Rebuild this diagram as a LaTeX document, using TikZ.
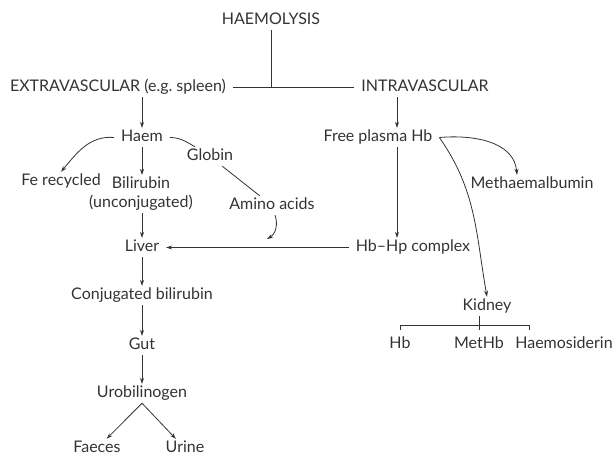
\documentclass[tikz,border=0pt]{standalone}
\usepackage{fontspec}
\setmainfont{Lato}
\usetikzlibrary{arrows.meta}

\begin{document}
\begin{tikzpicture}[
  x=1pt,y=1pt,
  >={Stealth[length=6pt,width=4pt]},
  label/.style={font=\fontsize{16}{19}\selectfont,text=black!80,anchor=base,
    inner xsep=3pt,inner ysep=2pt,outer xsep=4pt,text height=12pt,text depth=3pt},
  twoline/.style={font=\fontsize{16}{19}\selectfont,text=black!80,align=center,
    anchor=north,inner sep=2pt},
  flow/.style={->,draw=black!80,line width=0.8pt},
  link/.style={draw=black!80,line width=0.8pt}
]
  \useasboundingbox (0,0) rectangle (614,-457);

  \node[label] (haemolysis) at (271,-25) {HAEMOLYSIS};
  \node[label] (extra) at (118,-92) {EXTRAVASCULAR (e.g.\ spleen)};
  \node[label] (intra) at (425,-92) {INTRAVASCULAR};
  \node[label] (haem) at (142,-142) {Haem};
  \node[label] (free) at (378,-142) {Free plasma Hb};
  \node[label] (globin) at (210,-161) {Globin};
  \node[label] (fe) at (61,-186) {Fe recycled};
  \node[twoline] (bil) at (141,-175) {Bilirubin\\(unconjugated)};
  \node[label] (amino) at (272,-210) {Amino acids};
  \node[label] (meth) at (532,-189) {Methaemalbumin};
  \node[label] (liver) at (142,-252) {Liver};
  \node[label] (hbhp) at (413,-252) {Hb\textendash Hp complex};
  \node[label] (conj) at (142,-300) {Conjugated bilirubin};
  \node[label] (kidney) at (487,-311) {Kidney};
  \node[label] (hb) at (400,-349) {Hb};
  \node[label] (methb) at (479,-349) {MetHb};
  \node[label] (haemo) at (564,-349) {Haemosiderin};
  \node[label] (gut) at (142,-350) {Gut};
  \node[label] (uro) at (142,-398) {Urobilinogen};
  \node[label] (faeces) at (97,-453) {Faeces};
  \node[label] (urine) at (185,-453) {Urine};
  \coordinate (aatip) at (267,-239);

  \draw[link] (extra.east) -- (intra.west);
  \draw[link] (haemolysis.south) -- (haemolysis.south |- extra.east);
  \draw[flow] (extra.south -| haem) -- (haem);
  \draw[flow] ([xshift=-28pt]intra.south) -- ([xshift=19pt]free.north);
  \draw[flow] (haem.west) to[out=175,in=50] (fe.north);
  \draw[flow] (haem.south) -- (haem.south |- bil.north);
  \draw[link] (haem.east) to[out=0,in=150] ([xshift=-15pt]globin.north);
  \draw[link] (globin) -- (amino);
  \draw[flow] ([xshift=3pt]amino.south) to[out=-70,in=30] (aatip);
  \draw[flow] (bil.south -| liver) -- (liver);
  \draw[flow] (hbhp) -- (liver);
  \draw[flow] ([xshift=19pt]free.south) -- ([xshift=-16pt]hbhp.north);
  \draw[flow] (free.east) to[out=5,in=95] ([xshift=-15pt]meth.north);
  \draw[flow] (free.east) to[out=-55,in=100] (kidney.north);
  \draw[flow] (liver) -- (conj);
  \draw[flow] (conj) -- (gut);
  \draw[flow] (gut) -- (uro);
  \draw[flow] (uro.south) -- (faeces);
  \draw[flow] (uro.south) -- (urine);
  \draw[link] (kidney.south -| methb) -- ([yshift=5pt]methb.north);
  \draw[link] ([yshift=5pt]hb.north) -- ++(0,4) -| ([xshift=-35pt,yshift=5pt]haemo.north);
\end{tikzpicture}
\end{document}
